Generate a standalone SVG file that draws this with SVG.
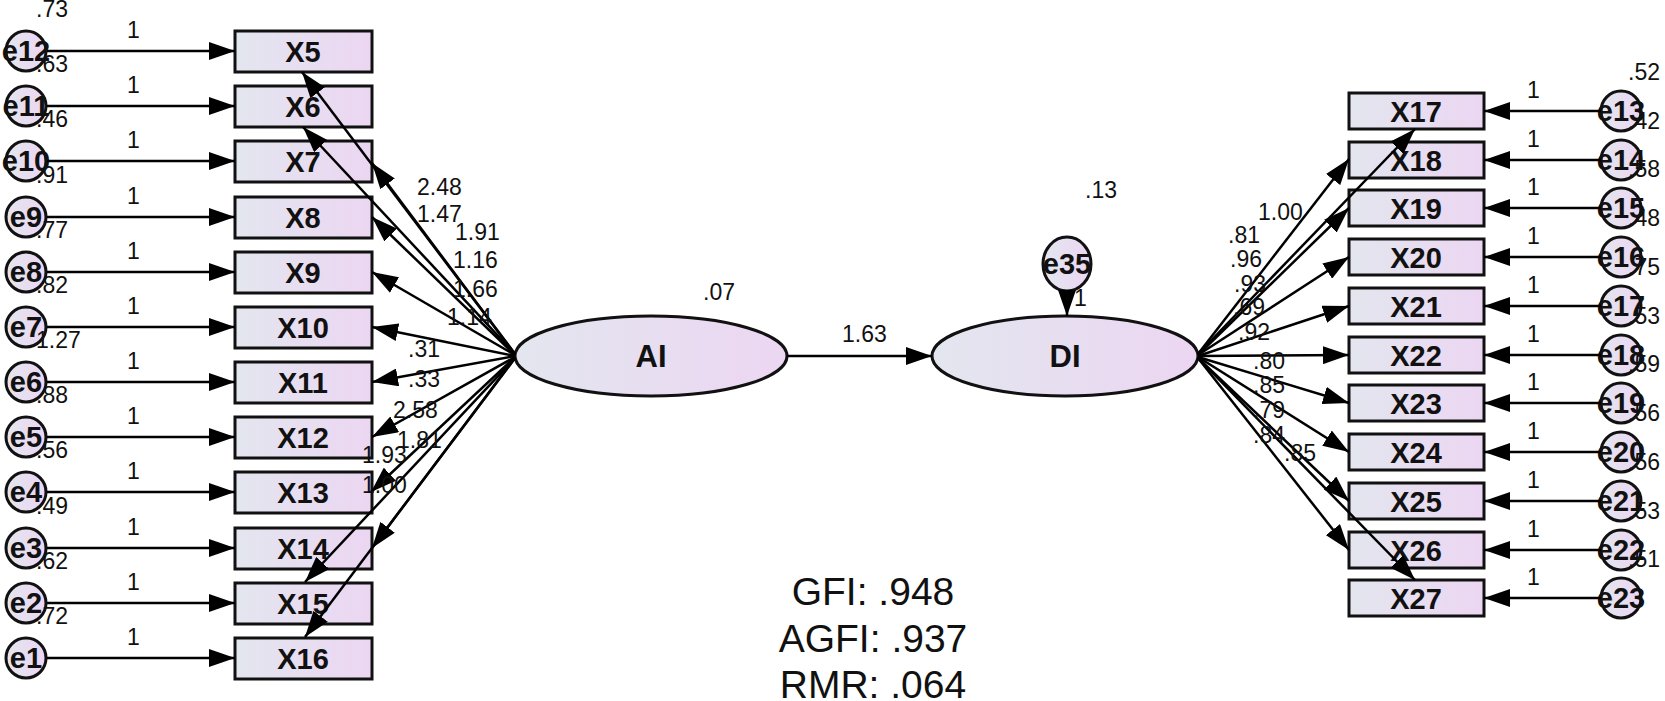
<svg xmlns="http://www.w3.org/2000/svg" width="1665" height="701" viewBox="0 0 1665 701">
<style>
.n{fill:url(#g);stroke:#111;stroke-width:3}
.l{stroke:#000;stroke-width:2.5;fill:none;marker-end:url(#a)}
.t{font-family:"Liberation Sans",Arial,sans-serif;font-size:23px;fill:#111}
.b{font-family:"Liberation Sans",Arial,sans-serif;font-size:29px;font-weight:bold;fill:#111;text-anchor:middle}
.e{font-family:"Liberation Sans",Arial,sans-serif;font-size:29px;font-weight:bold;fill:#111;text-anchor:middle}
.f{font-family:"Liberation Sans",Arial,sans-serif;font-size:39px;fill:#111;text-anchor:middle}
</style>
<defs>
<linearGradient id="g" x1="0" y1="0" x2="1" y2="0"><stop offset="0" stop-color="#e3e6ef"/><stop offset="1" stop-color="#ecd6f2"/></linearGradient>
<marker id="a" markerUnits="userSpaceOnUse" markerWidth="28" markerHeight="18" refX="26" refY="9" orient="auto"><path d="M0,0 L26,9 L0,18 Z" fill="#000"/></marker>
</defs>
<rect width="1665" height="701" fill="#fff"/>
<g id="X5"><rect class="n" x="235" y="31" width="137" height="41"/><text class="b" x="303" y="62">X5</text></g>
<g id="X6"><rect class="n" x="235" y="86" width="137" height="41"/><text class="b" x="303" y="117">X6</text></g>
<g id="X7"><rect class="n" x="235" y="141" width="137" height="41"/><text class="b" x="303" y="172">X7</text></g>
<g id="X8"><rect class="n" x="235" y="197" width="137" height="41"/><text class="b" x="303" y="228">X8</text></g>
<g id="X9"><rect class="n" x="235" y="252" width="137" height="41"/><text class="b" x="303" y="283">X9</text></g>
<g id="X10"><rect class="n" x="235" y="307" width="137" height="41"/><text class="b" x="303" y="338">X10</text></g>
<g id="X11"><rect class="n" x="235" y="362" width="137" height="41"/><text class="b" x="303" y="393">X11</text></g>
<g id="X12"><rect class="n" x="235" y="417" width="137" height="41"/><text class="b" x="303" y="448">X12</text></g>
<g id="X13"><rect class="n" x="235" y="472" width="137" height="41"/><text class="b" x="303" y="503">X13</text></g>
<g id="X14"><rect class="n" x="235" y="528" width="137" height="41"/><text class="b" x="303" y="559">X14</text></g>
<g id="X15"><rect class="n" x="235" y="583" width="137" height="41"/><text class="b" x="303" y="614">X15</text></g>
<g id="X16"><rect class="n" x="235" y="638" width="137" height="41"/><text class="b" x="303" y="669">X16</text></g>
<g id="e12"><circle class="n" cx="26" cy="51" r="20"/><text class="e" x="26" y="61">e12</text></g>
<g id="e11"><circle class="n" cx="26" cy="106" r="20"/><text class="e" x="26" y="116">e11</text></g>
<g id="e10"><circle class="n" cx="26" cy="161" r="20"/><text class="e" x="26" y="171">e10</text></g>
<g id="e9"><circle class="n" cx="26" cy="217" r="20"/><text class="e" x="26" y="227">e9</text></g>
<g id="e8"><circle class="n" cx="26" cy="272" r="20"/><text class="e" x="26" y="282">e8</text></g>
<g id="e7"><circle class="n" cx="26" cy="327" r="20"/><text class="e" x="26" y="337">e7</text></g>
<g id="e6"><circle class="n" cx="26" cy="382" r="20"/><text class="e" x="26" y="392">e6</text></g>
<g id="e5"><circle class="n" cx="26" cy="437" r="20"/><text class="e" x="26" y="447">e5</text></g>
<g id="e4"><circle class="n" cx="26" cy="492" r="20"/><text class="e" x="26" y="502">e4</text></g>
<g id="e3"><circle class="n" cx="26" cy="548" r="20"/><text class="e" x="26" y="558">e3</text></g>
<g id="e2"><circle class="n" cx="26" cy="603" r="20"/><text class="e" x="26" y="613">e2</text></g>
<g id="e1"><circle class="n" cx="26" cy="658" r="20"/><text class="e" x="26" y="668">e1</text></g>
<g id="AI"><ellipse class="n" cx="651" cy="356" rx="136" ry="40"/><text class="b" x="651" y="367" style="font-size:31px">AI</text></g>
<g id="DI"><ellipse class="n" cx="1065" cy="356" rx="133" ry="40"/><text class="b" x="1065" y="367" style="font-size:31px">DI</text></g>
<g id="e35"><ellipse class="n" cx="1067" cy="264" rx="24" ry="27"/><text class="e" x="1067" y="274">e35</text></g>
<g id="X17"><rect class="n" x="1349" y="93" width="135" height="36"/><text class="b" x="1416" y="122">X17</text></g>
<g id="X18"><rect class="n" x="1349" y="142" width="135" height="36"/><text class="b" x="1416" y="171">X18</text></g>
<g id="X19"><rect class="n" x="1349" y="190" width="135" height="36"/><text class="b" x="1416" y="219">X19</text></g>
<g id="X20"><rect class="n" x="1349" y="239" width="135" height="36"/><text class="b" x="1416" y="268">X20</text></g>
<g id="X21"><rect class="n" x="1349" y="288" width="135" height="36"/><text class="b" x="1416" y="317">X21</text></g>
<g id="X22"><rect class="n" x="1349" y="337" width="135" height="36"/><text class="b" x="1416" y="366">X22</text></g>
<g id="X23"><rect class="n" x="1349" y="385" width="135" height="36"/><text class="b" x="1416" y="414">X23</text></g>
<g id="X24"><rect class="n" x="1349" y="434" width="135" height="36"/><text class="b" x="1416" y="463">X24</text></g>
<g id="X25"><rect class="n" x="1349" y="483" width="135" height="36"/><text class="b" x="1416" y="512">X25</text></g>
<g id="X26"><rect class="n" x="1349" y="532" width="135" height="36"/><text class="b" x="1416" y="561">X26</text></g>
<g id="X27"><rect class="n" x="1349" y="580" width="135" height="36"/><text class="b" x="1416" y="609">X27</text></g>
<g id="e13"><circle class="n" cx="1621" cy="111" r="20"/><text class="e" x="1621" y="121">e13</text></g>
<g id="e14"><circle class="n" cx="1621" cy="160" r="20"/><text class="e" x="1621" y="170">e14</text></g>
<g id="e15"><circle class="n" cx="1621" cy="208" r="20"/><text class="e" x="1621" y="218">e15</text></g>
<g id="e16"><circle class="n" cx="1621" cy="257" r="20"/><text class="e" x="1621" y="267">e16</text></g>
<g id="e17"><circle class="n" cx="1621" cy="306" r="20"/><text class="e" x="1621" y="316">e17</text></g>
<g id="e18"><circle class="n" cx="1621" cy="355" r="20"/><text class="e" x="1621" y="365">e18</text></g>
<g id="e19"><circle class="n" cx="1621" cy="403" r="20"/><text class="e" x="1621" y="413">e19</text></g>
<g id="e20"><circle class="n" cx="1621" cy="452" r="20"/><text class="e" x="1621" y="462">e20</text></g>
<g id="e21"><circle class="n" cx="1621" cy="501" r="20"/><text class="e" x="1621" y="511">e21</text></g>
<g id="e22"><circle class="n" cx="1621" cy="550" r="20"/><text class="e" x="1621" y="560">e22</text></g>
<g id="e23"><circle class="n" cx="1621" cy="598" r="20"/><text class="e" x="1621" y="608">e23</text></g>
<g id="connectors">
<line class="l" x1="47" y1="51" x2="235" y2="51"/>
<line class="l" x1="47" y1="106" x2="235" y2="106"/>
<line class="l" x1="47" y1="161" x2="235" y2="161"/>
<line class="l" x1="47" y1="217" x2="235" y2="217"/>
<line class="l" x1="47" y1="272" x2="235" y2="272"/>
<line class="l" x1="47" y1="327" x2="235" y2="327"/>
<line class="l" x1="47" y1="382" x2="235" y2="382"/>
<line class="l" x1="47" y1="437" x2="235" y2="437"/>
<line class="l" x1="47" y1="492" x2="235" y2="492"/>
<line class="l" x1="47" y1="548" x2="235" y2="548"/>
<line class="l" x1="47" y1="603" x2="235" y2="603"/>
<line class="l" x1="47" y1="658" x2="235" y2="658"/>
<line class="l" x1="515" y1="354" x2="302" y2="72"/>
<line class="l" x1="515" y1="354" x2="303" y2="127"/>
<line class="l" x1="515" y1="354" x2="372" y2="163"/>
<line class="l" x1="515" y1="355" x2="372" y2="217"/>
<line class="l" x1="515" y1="355" x2="372" y2="272"/>
<line class="l" x1="515" y1="356" x2="372" y2="327"/>
<line class="l" x1="515" y1="356" x2="372" y2="382"/>
<line class="l" x1="515" y1="357" x2="372" y2="437"/>
<line class="l" x1="515" y1="357" x2="371" y2="492"/>
<line class="l" x1="515" y1="358" x2="372" y2="548"/>
<line class="l" x1="515" y1="358" x2="305" y2="582"/>
<line class="l" x1="515" y1="358" x2="305" y2="637"/>
<line class="l" x1="787" y1="356" x2="932" y2="356"/>
<line class="l" x1="1067" y1="291" x2="1067" y2="316"/>
<line class="l" x1="1198" y1="354" x2="1415" y2="129"/>
<line class="l" x1="1198" y1="354" x2="1349" y2="159"/>
<line class="l" x1="1198" y1="355" x2="1349" y2="208"/>
<line class="l" x1="1198" y1="355" x2="1349" y2="257"/>
<line class="l" x1="1198" y1="356" x2="1349" y2="306"/>
<line class="l" x1="1198" y1="356" x2="1349" y2="355"/>
<line class="l" x1="1198" y1="357" x2="1349" y2="403"/>
<line class="l" x1="1198" y1="357" x2="1349" y2="452"/>
<line class="l" x1="1198" y1="358" x2="1349" y2="501"/>
<line class="l" x1="1198" y1="358" x2="1349" y2="550"/>
<line class="l" x1="1198" y1="358" x2="1415" y2="580"/>
<line class="l" x1="1601" y1="111" x2="1484" y2="111"/>
<line class="l" x1="1601" y1="160" x2="1484" y2="160"/>
<line class="l" x1="1601" y1="208" x2="1484" y2="208"/>
<line class="l" x1="1601" y1="257" x2="1484" y2="257"/>
<line class="l" x1="1601" y1="306" x2="1484" y2="306"/>
<line class="l" x1="1601" y1="355" x2="1484" y2="355"/>
<line class="l" x1="1601" y1="403" x2="1484" y2="403"/>
<line class="l" x1="1601" y1="452" x2="1484" y2="452"/>
<line class="l" x1="1601" y1="501" x2="1484" y2="501"/>
<line class="l" x1="1601" y1="550" x2="1484" y2="550"/>
<line class="l" x1="1601" y1="598" x2="1484" y2="598"/>
</g>
<g id="left-labels" class="t">
<text x="127" y="38">1</text><text x="127" y="93">1</text><text x="127" y="148">1</text><text x="127" y="204">1</text><text x="127" y="259">1</text><text x="127" y="314">1</text><text x="127" y="369">1</text><text x="127" y="424">1</text><text x="127" y="479">1</text><text x="127" y="535">1</text><text x="127" y="590">1</text><text x="127" y="645">1</text>
<text x="36" y="17">.73</text><text x="36" y="72">.63</text><text x="36" y="127">.46</text><text x="36" y="183">.91</text><text x="36" y="238">.77</text><text x="36" y="293">.82</text><text x="36" y="348">1.27</text><text x="36" y="403">.88</text><text x="36" y="458">.56</text><text x="36" y="514">.49</text><text x="36" y="569">.62</text><text x="36" y="624">.72</text>
<text x="417" y="195">2.48</text><text x="417" y="222">1.47</text><text x="455" y="240">1.91</text><text x="453" y="268">1.16</text><text x="453" y="297">1.66</text><text x="447" y="325">1.14</text>
<text x="408" y="357">.31</text><text x="408" y="387">.33</text><text x="393" y="418">2.58</text><text x="397" y="448">1.81</text><text x="362" y="463">1.93</text><text x="362" y="493">1.00</text>
</g>
<g id="right-labels" class="t">
<text x="1527" y="98">1</text><text x="1527" y="147">1</text><text x="1527" y="195">1</text><text x="1527" y="244">1</text><text x="1527" y="293">1</text><text x="1527" y="342">1</text><text x="1527" y="390">1</text><text x="1527" y="439">1</text><text x="1527" y="488">1</text><text x="1527" y="537">1</text><text x="1527" y="585">1</text>
<text x="1628" y="80">.52</text><text x="1628" y="129">.42</text><text x="1628" y="177">.58</text><text x="1628" y="226">.48</text><text x="1628" y="275">.75</text><text x="1628" y="324">.53</text><text x="1628" y="372">.59</text><text x="1628" y="421">.56</text><text x="1628" y="470">.56</text><text x="1628" y="519">.53</text><text x="1628" y="567">.51</text>
<text x="1258" y="220">1.00</text><text x="1228" y="243">.81</text><text x="1230" y="267">.96</text><text x="1234" y="292">.93</text><text x="1233" y="315">.69</text><text x="1238" y="340">.92</text>
<text x="1253" y="369">.80</text><text x="1253" y="393">.85</text><text x="1253" y="418">.79</text><text x="1253" y="443">.84</text><text x="1284" y="461">.85</text>
<text x="703" y="300">.07</text><text x="842" y="342">1.63</text><text x="1085" y="198">.13</text><text x="1074" y="306">1</text>
</g>
<g id="fit"><text class="f" x="873" y="605">GFI: .948</text><text class="f" x="873" y="652">AGFI: .937</text><text class="f" x="873" y="698">RMR: .064</text></g>
</svg>
